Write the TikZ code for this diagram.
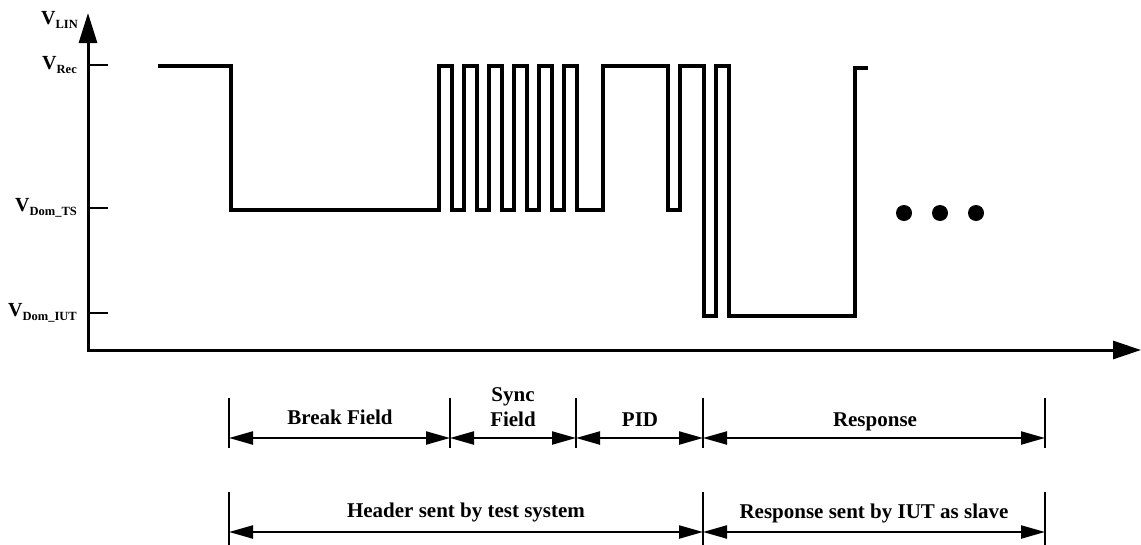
\documentclass[tikz,border=0pt]{standalone}
\usepackage{fontspec}
\setmainfont{Liberation Serif}
\usetikzlibrary{arrows.meta}

\newcommand{\volt}[1]{V\raisebox{-0.4ex}{\fontsize{12.5}{12.5}\selectfont #1}}

\begin{document}
\begin{tikzpicture}[
        x=1pt, y=-1pt,
        axis/.style={line width=3pt, {Triangle[length=30pt,width=18pt]}-{Triangle[length=28pt,width=18pt]}},
        signal/.style={line width=3.2pt, line join=miter},
        tick/.style={line width=2.6pt},
        bar/.style={line width=2.2pt},
        span/.style={line width=2.2pt, {Triangle[length=24pt,width=13pt]}-{Triangle[length=24pt,width=13pt]}},
        level/.style={font=\bfseries\fontsize{20}{20}\selectfont, anchor=east, inner sep=0pt},
        field/.style={font=\bfseries\fontsize{21}{25}\selectfont, align=center, inner sep=0pt},
        dot/.style={circle, fill, inner sep=0pt, minimum size=16pt}
    ]
    \useasboundingbox (0,0) rectangle (1141,544);

    % axes
    \coordinate (origin) at (88,350);
    \coordinate (ytop) at (88,13);
    \coordinate (xend) at (1141,350);
    \draw[axis] (ytop) -- (origin) -- (xend);
    \node[level] (vlin) at (78,20) {\volt{LIN}};

    % voltage levels
    \foreach \name/\y/\txt in {rec/65/Rec, ts/208/Dom\_TS, iut/313/Dom\_IUT} {
        \draw[tick] (88,\y) -- (108,\y);
        \node[level] (v\name) at (77,\y) {\volt{\txt}};
    }

    % bus signal
    \draw[signal] (158,66) -- (231,66) -- (231,210) -- (439,210)
        \foreach \k in {0,...,5} {
            -- ({439+25*\k},210) -- ({439+25*\k},66)
            -- ({452+25*\k},66) -- ({452+25*\k},210)
        }
        -- (603,210) -- (603,66) -- (668,66) -- (668,210)
        -- (680,210) -- (680,66) -- (704,66) -- (704,316)
        -- (716,316) -- (716,66) -- (729,66) -- (729,316)
        -- (855,316) -- (855,68) -- (868,68);

    \foreach \n/\x in {1/904, 2/940, 3/976}
        \node[dot] (dot\n) at (\x,213) {};

    % field bars
    \foreach \n/\x in {a/229, b/450, c/576, d/703, e/1045} {
        \coordinate (up\n) at (\x,398);
        \coordinate (mid\n) at (\x,438);
        \coordinate (lo\n) at (\x,448);
        \draw[bar] (up\n) -- (lo\n);
    }
    \foreach \n/\x in {a/229, d/703, e/1045} {
        \coordinate (top\n) at (\x,492);
        \coordinate (row\n) at (\x,532);
        \draw[bar] (top\n) -- (\x,550);
    }

    \draw[span] (mida) -- (midb);
    \draw[span] (midb) -- (midc);
    \draw[span] (midc) -- (midd);
    \draw[span] (midd) -- (mide);
    \draw[span] (rowa) -- (rowd);
    \draw[span] (rowd) -- (rowe);

    \node[field] (brk) at (340,417) {Break Field};
    \node[field] (sync) at (513,407) {Sync\\Field};
    \node[field] (pid) at (640,420) {PID};
    \node[field] (resp) at (875,422) {Response};
    \node[field] (hdr) at (466,512) {Header sent by test system};
    \node[field] (slave) at (874,513) {Response sent by IUT as slave};
\end{tikzpicture}
\end{document}
